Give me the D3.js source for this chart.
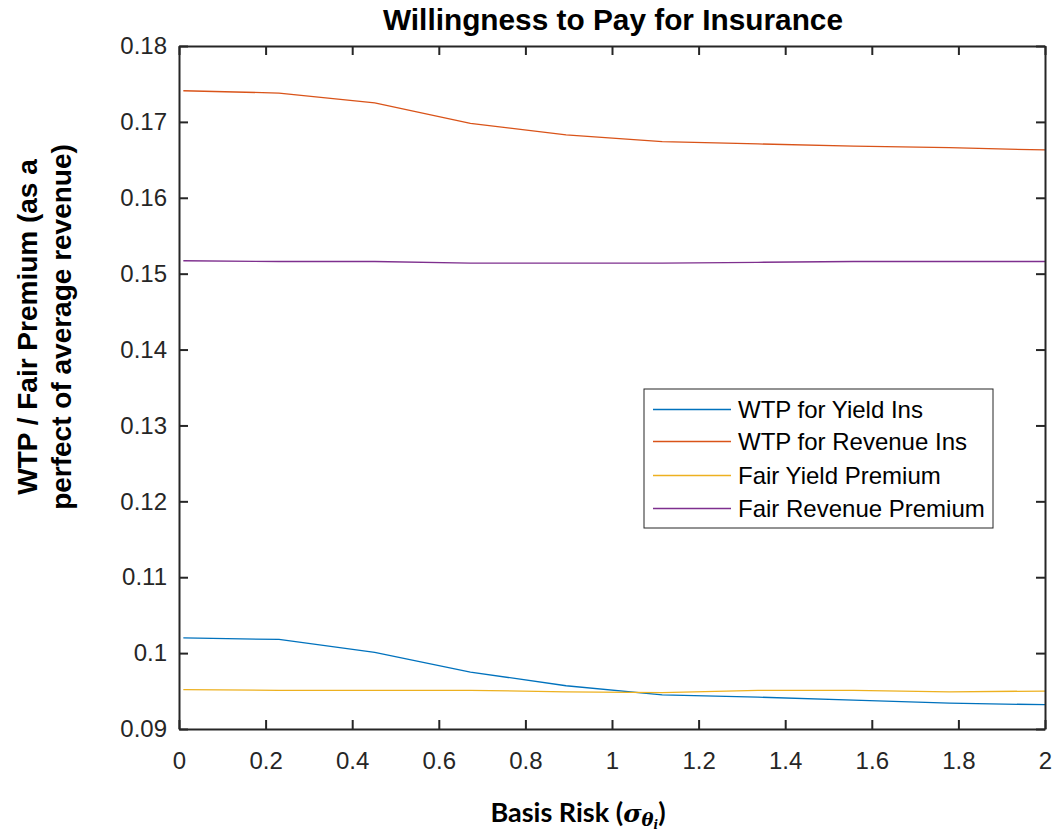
<!DOCTYPE html>
<html>
<head>
<meta charset="utf-8">
<script src="https://cdn.jsdelivr.net/npm/d3@7"></script>
<style>
  body { margin: 0; background: #fff; }
  svg { display: block; }
  text { font-family: "Liberation Sans", Arial, sans-serif; }
</style>
</head>
<body>
<svg id="chart" width="1052" height="832"></svg>
<script>
// ---- data ----
const xValues = [0.01, 0.231, 0.452, 0.673, 0.894, 1.116, 1.337, 1.558, 1.779, 2.0];
const wtpYield   = [0.1020, 0.1018, 0.1001, 0.0975, 0.0957, 0.0945, 0.0942, 0.0938, 0.0934, 0.0932];
const wtpRevenue = [0.1741, 0.1738, 0.1725, 0.1698, 0.1683, 0.1674, 0.1671, 0.1668, 0.1666, 0.1663];
const fairYield  = [0.0952, 0.0951, 0.0951, 0.0951, 0.0949, 0.0948, 0.0951, 0.0951, 0.0949, 0.0950];
const fairRevenue= [0.1517, 0.1516, 0.1516, 0.1514, 0.1514, 0.1514, 0.1515, 0.1516, 0.1516, 0.1516];
const seriesNames = ["WTP for Yield Ins", "WTP for Revenue Ins", "Fair Yield Premium", "Fair Revenue Premium"];
const xTicks = [0, 0.2, 0.4, 0.6, 0.8, 1, 1.2, 1.4, 1.6, 1.8, 2];
const yTicks = [0.09, 0.10, 0.11, 0.12, 0.13, 0.14, 0.15, 0.16, 0.17, 0.18];
const xTickLabels = ["0", "0.2", "0.4", "0.6", "0.8", "1", "1.2", "1.4", "1.6", "1.8", "2"];
const yTickLabels = ["0.09", "0.1", "0.11", "0.12", "0.13", "0.14", "0.15", "0.16", "0.17", "0.18"];

const colors = ["#0072BD", "#D95319", "#EDB120", "#7E2F8E"];
const seriesData = [wtpYield, wtpRevenue, fairYield, fairRevenue];

const svg = d3.select("#chart");
const L = 179, R = 1045, T = 46, B = 729;
const x = d3.scaleLinear().domain([0, 2]).range([L, R]);
const y = d3.scaleLinear().domain([0.09, 0.18]).range([B, T]);
const axisColor = "#262626";
const tickLen = 9;

// lines
const line = d3.line().x((d, i) => x(xValues[i])).y(d => y(d));
seriesData.forEach((s, k) => {
  svg.append("path").datum(s)
    .attr("fill", "none").attr("stroke", colors[k]).attr("stroke-width", 1.3)
    .attr("d", line);
});

// axes (ticks inward, box)
const fmtX = (d, i) => xTickLabels[i];
const fmtY = (d, i) => yTickLabels[i];
const gB = svg.append("g").attr("transform", `translate(0,${B})`)
  .call(d3.axisBottom(x).tickValues(xTicks).tickFormat(fmtX).tickSizeInner(-tickLen).tickSizeOuter(0).tickPadding(23));
const gT = svg.append("g").attr("transform", `translate(0,${T})`)
  .call(d3.axisTop(x).tickValues(xTicks).tickFormat("").tickSizeInner(-tickLen).tickSizeOuter(0));
const gL = svg.append("g").attr("transform", `translate(${L},0)`)
  .call(d3.axisLeft(y).tickValues(yTicks).tickFormat(fmtY).tickSizeInner(-tickLen).tickSizeOuter(0).tickPadding(12));
const gR = svg.append("g").attr("transform", `translate(${R},0)`)
  .call(d3.axisRight(y).tickValues(yTicks).tickFormat("").tickSizeInner(-tickLen).tickSizeOuter(0));
[gB, gT, gL, gR].forEach(g => {
  g.select(".domain").attr("stroke", axisColor).attr("stroke-width", 2);
  g.selectAll(".tick line").attr("stroke", axisColor).attr("stroke-width", 2);
  g.selectAll(".tick text").attr("fill", axisColor)
    .style("font-family", "'Liberation Sans', Arial, sans-serif").style("font-size", "24px");
});

// title
svg.append("text").attr("x", 613).attr("y", 30).attr("text-anchor", "middle")
  .style("font-size", "29.8px").style("font-weight", "bold").attr("fill", "#000")
  .text("Willingness to Pay for Insurance");

// y label
const yl = svg.append("text").attr("transform", "translate(37,327) rotate(-90)")
  .attr("text-anchor", "middle").style("font-size", "28px").style("font-weight", "bold").attr("fill", "#000");
yl.append("tspan").attr("x", 0).attr("dy", 0).text("WTP / Fair Premium (as a");
yl.append("tspan").attr("x", 0).attr("dy", 34).text("perfect of average revenue)");

// x label
const xl = svg.append("text").attr("x", 578).attr("y", 822).attr("text-anchor", "middle")
  .style("font-size", "27px").style("font-weight", "bold").attr("fill", "#000")
  .style("font-family", "Lato, 'Open Sans', sans-serif");
xl.append("tspan").text("Basis Risk (");
xl.append("tspan").style("font-style", "italic").style("font-family", "'DejaVu Serif', serif").style("font-size", "25px").text("σ");
xl.append("tspan").attr("dy", 4).style("font-style", "italic").style("font-size", "18px").style("font-family", "'DejaVu Serif', serif").text("θ");
xl.append("tspan").attr("dy", 3).style("font-style", "italic").style("font-size", "12px").style("font-family", "'DejaVu Serif', serif").text("i");
xl.append("tspan").attr("dy", -7).text(")");

// legend
const lg = svg.append("g");
lg.append("rect").attr("x", 644).attr("y", 389).attr("width", 349).attr("height", 139)
  .attr("fill", "#fff").attr("stroke", axisColor).attr("stroke-width", 1);
const ly = [409.5, 441.5, 475.5, 508.5];
seriesNames.forEach((n, k) => {
  lg.append("line").attr("x1", 653).attr("x2", 731).attr("y1", ly[k]).attr("y2", ly[k])
    .attr("stroke", colors[k]).attr("stroke-width", 1.3);
  lg.append("text").attr("x", 738).attr("y", ly[k] + 8.5).style("font-size", "24px").attr("fill", "#000").text(n);
});
</script>
</body>
</html>
